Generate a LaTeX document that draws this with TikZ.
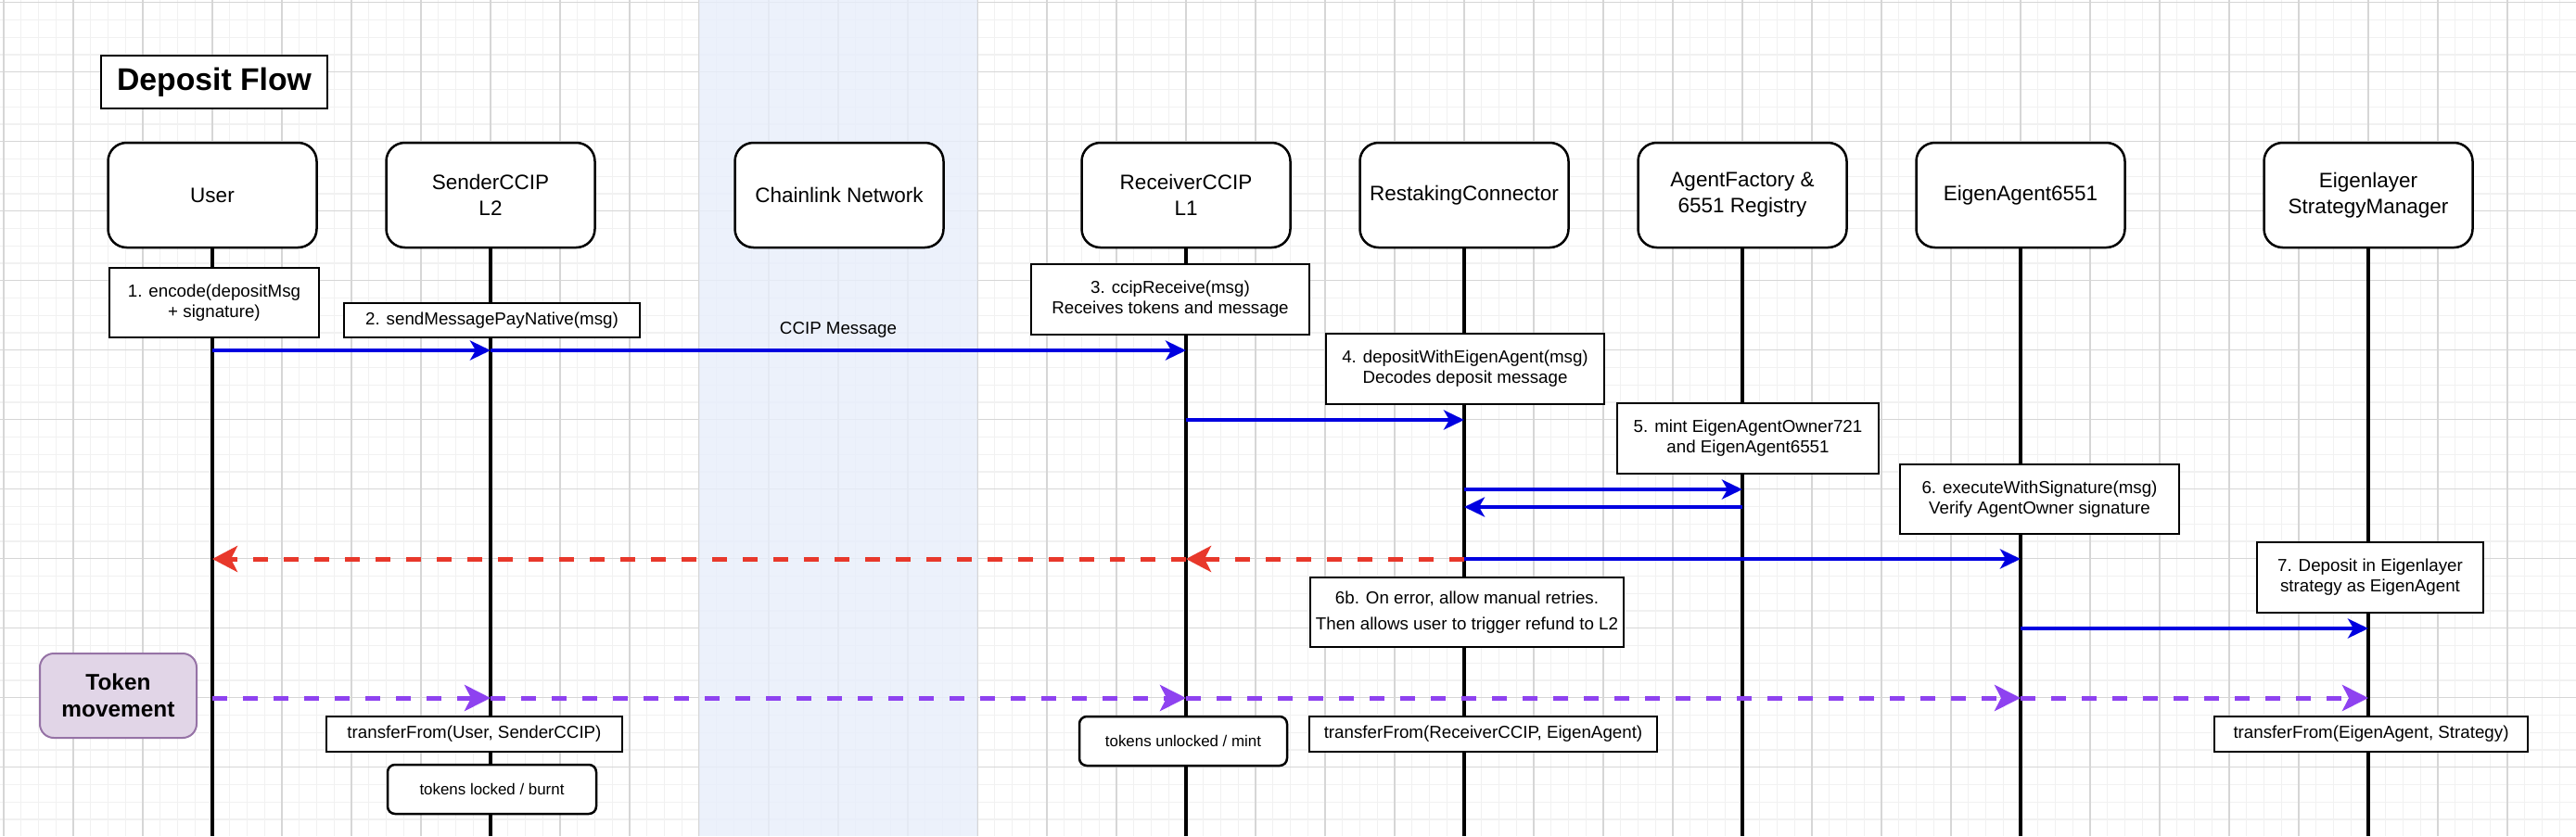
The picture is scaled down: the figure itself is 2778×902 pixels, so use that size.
\documentclass[tikz,border=0pt]{standalone}
\usepackage{fontspec}
\setmainfont{Liberation Sans}
\usetikzlibrary{arrows.meta}
\definecolor{gmaj}{HTML}{D6D6D6}
\definecolor{gmin}{HTML}{F1F1F1}
\definecolor{bandc}{HTML}{E8EEFB}
\definecolor{mblue}{HTML}{0000E0}
\definecolor{mred}{HTML}{E8382B}
\definecolor{mpurple}{HTML}{8E42F0}
\definecolor{tokfill}{HTML}{E1D5E7}
\definecolor{tokdraw}{HTML}{9673A6}
\begin{document}
\begin{tikzpicture}[x=1pt,y=-1pt,
  minorgrid/.style={draw=gmin, line width=1.4pt},
  majorgrid/.style={draw=gmaj, line width=1.3pt},
  party/.style={draw, line width=2.5pt, rounded corners=20pt, fill=white,
    minimum width=225pt, minimum height=113pt, align=center, inner sep=0pt,
    font=\fontsize{22.5}{28}\selectfont},
  note/.style={draw, line width=2.5pt, fill=white, align=center, inner sep=0pt,
    font=\fontsize{18.75}{22}\selectfont},
  smallnote/.style={draw, line width=2.5pt, fill=white, align=center, inner sep=0pt,
    rounded corners=8pt, font=\fontsize{16.9}{20}\selectfont},
  life/.style={line width=3.5pt},
  msg/.style={draw=mblue, line width=4.5pt, -{Stealth[length=22pt,width=21pt,inset=6pt]}},
  err/.style={draw=mred, line width=5pt, dash pattern=on 16pt off 17pt,
    -{Stealth[length=27pt,width=28pt,inset=7pt]}},
  tok/.style={draw=mpurple, line width=5pt, dash pattern=on 16pt off 17pt,
    -{Stealth[length=28pt,width=28pt,inset=7pt]}},
  lbl/.style={inner sep=0pt, font=\fontsize{18.75}{22}\selectfont}
]
\useasboundingbox (0,0) rectangle (2778,902);
\fill[white] (0,0) rectangle (2778,902);
% grid
\foreach \i in {0,...,147} {
  \draw[minorgrid] ({4+18.75*\i},0) -- ({4+18.75*\i},902);
}
\foreach \i in {0,...,47} {
  \draw[minorgrid] (0,{2.7+18.75*\i}) -- (2778,{2.7+18.75*\i});
}
\foreach \i in {0,...,36} {
  \draw[majorgrid] ({4+75*\i},0) -- ({4+75*\i},902);
}
\foreach \i in {0,...,11} {
  \draw[majorgrid] (0,{2.7+75*\i}) -- (2778,{2.7+75*\i});
}
% chainlink band
\fill[bandc, opacity=0.8] (754,0) rectangle (1054,902);

% bottom reference and message rows
\coordinate (bottom) at (0,902);
\coordinate (m1) at (0,378);
\coordinate (m2) at (0,453);
\coordinate (m3) at (0,528);
\coordinate (m4) at (0,547);
\coordinate (m5) at (0,603);
\coordinate (m6) at (0,678);
\coordinate (m7) at (0,753);

% participants
\node[party] (user) at (229,210.5) {User};
\node[party] (sender) at (529,210.5) {SenderCCIP\\L2};
\node[party] (chain) at (905,210.5) {Chainlink Network};
\node[party] (receiver) at (1279,210.5) {ReceiverCCIP\\L1};
\node[party] (restaking) at (1579,210.5) {RestakingConnector};
\node[party] (factory) at (1879,210.5) {AgentFactory \&\\6551 Registry};
\node[party] (agent) at (2179,210.5) {EigenAgent6551};
\node[party] (eigen) at (2554,210.5) {Eigenlayer\\StrategyManager};

% lifelines
\foreach \p in {user,sender,receiver,restaking,factory,agent,eigen} {
  \draw[life] (\p.south) -- (\p |- bottom);
}

% title
\node[draw, line width=2.5pt, fill=white, minimum width=244pt, minimum height=57pt,
  inner sep=0pt, font=\bfseries\fontsize{33.75}{40}\selectfont] (title) at (231,88.5) {Deposit Flow};

% notes
\node[note, minimum width=226pt, minimum height=75pt] (n1) at (231,326.5) {1. encode(depositMsg\\+ signature)};
\node[note, minimum width=319pt, minimum height=37pt] (n2) at (530.5,345.5) {2. sendMessagePayNative(msg)};
\node[note, minimum width=300pt, minimum height=76pt] (n3) at (1262,323) {3. ccipReceive(msg)\\Receives tokens and message};
\node[note, minimum width=300pt, minimum height=76pt] (n4) at (1580,398) {4. depositWithEigenAgent(msg)\\Decodes deposit message};
\node[note, minimum width=282pt, minimum height=76pt] (n5) at (1885,473) {5. mint EigenAgentOwner721\\and EigenAgent6551};
\node[note, minimum width=301pt, minimum height=75pt] (n6) at (2199.5,538.5) {6. executeWithSignature(msg)\\Verify AgentOwner signature};
\node[note, minimum width=338pt, minimum height=75pt, font=\fontsize{18.75}{28}\selectfont] (n6b) at (1582,660.5) {6b. On error, allow manual retries.\\Then allows user to trigger refund to L2};
\node[note, minimum width=244pt, minimum height=76pt] (n7) at (2556,623) {7. Deposit in Eigenlayer\\strategy as EigenAgent};

\node[note, minimum width=319pt, minimum height=38pt] (t1) at (511.5,792) {transferFrom(User, SenderCCIP)};
\node[smallnote, minimum width=225pt, minimum height=53pt] (t2) at (530.5,851.5) {tokens locked / burnt};
\node[smallnote, minimum width=224pt, minimum height=53pt] (t3) at (1276,799.5) {tokens unlocked / mint};
\node[note, minimum width=375pt, minimum height=38pt] (t4) at (1599.5,792) {transferFrom(ReceiverCCIP, EigenAgent)};
\node[note, minimum width=338pt, minimum height=38pt] (t5) at (2557,792) {transferFrom(EigenAgent, Strategy)};

% token movement legend
\node[draw=tokdraw, fill=tokfill, line width=2pt, rounded corners=15pt,
  minimum width=169pt, minimum height=91pt, inner sep=0pt, align=center,
  font=\bfseries\fontsize{24.4}{29}\selectfont] (tokbox) at (127.5,750.5) {Token\\movement};

% messages
\draw[msg] (user |- m1) -- (sender |- m1);
\draw[msg] (sender |- m1) -- node[lbl, above=11pt] (ccip) {CCIP Message} (receiver |- m1);
\draw[msg] (receiver |- m2) -- (restaking |- m2);
\draw[msg] (restaking |- m3) -- (factory |- m3);
\draw[msg] (factory |- m4) -- (restaking |- m4);
\draw[msg] (restaking |- m5) -- (agent |- m5);
\draw[err] (restaking |- m5) -- (receiver |- m5);
\draw[err] (receiver |- m5) -- (user |- m5);
\draw[msg] (agent |- m6) -- (eigen |- m6);

% token movement
\draw[tok] (user |- m7) -- (sender |- m7);
\draw[tok] (sender |- m7) -- (receiver |- m7);
\draw[tok] (receiver |- m7) -- (agent |- m7);
\draw[tok] (agent |- m7) -- (eigen |- m7);
\end{tikzpicture}
\end{document}
